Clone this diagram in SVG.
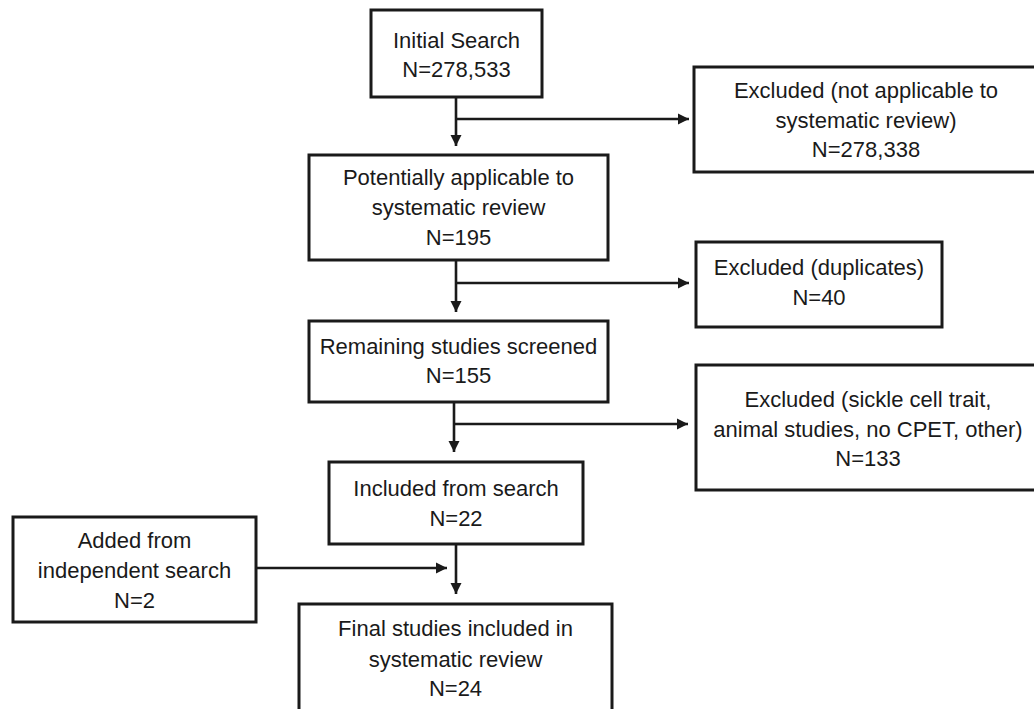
<svg xmlns="http://www.w3.org/2000/svg" width="1034" height="709" viewBox="0 0 1034 709">
<style>
.box{fill:#fff;stroke:#1a1a1a;stroke-width:3}
.t{font-family:"Liberation Sans",Arial,sans-serif;font-size:22px;fill:#1a1a1a;text-anchor:middle}
.c{fill:none;stroke:#1a1a1a;stroke-width:2.6}
</style>
<defs>
<marker id="ah" markerUnits="userSpaceOnUse" markerWidth="12" markerHeight="12" viewBox="0 0 12 12" refX="11" refY="6" orient="auto">
<path d="M0,0.5 L11,6 L0,11.5 Z" fill="#1a1a1a"/>
</marker>
</defs>
<rect width="1034" height="709" fill="#fff"/>
<g id="connectors">
<path class="c" d="M456,97 V146" marker-end="url(#ah)"/>
<path class="c" d="M456,119 H689" marker-end="url(#ah)"/>
<path class="c" d="M456,260 V312" marker-end="url(#ah)"/>
<path class="c" d="M456,283 H689" marker-end="url(#ah)"/>
<path class="c" d="M454,402 V452" marker-end="url(#ah)"/>
<path class="c" d="M454,424 H688" marker-end="url(#ah)"/>
<path class="c" d="M456,544 V594" marker-end="url(#ah)"/>
<path class="c" d="M256,568 H447" marker-end="url(#ah)"/>
</g>
<g id="initial">
<rect class="box" x="371" y="10" width="171" height="87"/>
<text class="t" x="456.5" y="48">Initial Search</text>
<text class="t" x="456.5" y="77">N=278,533</text>
</g>
<g id="potential">
<rect class="box" x="309" y="155" width="299" height="105"/>
<text class="t" x="458.5" y="185">Potentially applicable to</text>
<text class="t" x="458.5" y="215">systematic review</text>
<text class="t" x="458.5" y="245">N=195</text>
</g>
<g id="remaining">
<rect class="box" x="309" y="321" width="299" height="81"/>
<text class="t" x="458.5" y="354">Remaining studies screened</text>
<text class="t" x="458.5" y="383">N=155</text>
</g>
<g id="included">
<rect class="box" x="329" y="462" width="254" height="82"/>
<text class="t" x="456" y="496">Included from search</text>
<text class="t" x="456" y="526">N=22</text>
</g>
<g id="final">
<rect class="box" x="299" y="604" width="313" height="120"/>
<text class="t" x="455.5" y="636">Final studies included in</text>
<text class="t" x="455.5" y="667">systematic review</text>
<text class="t" x="455.5" y="696">N=24</text>
</g>
<g id="added">
<rect class="box" x="13" y="517" width="243" height="105"/>
<text class="t" x="134.5" y="548">Added from</text>
<text class="t" x="134.5" y="578">independent search</text>
<text class="t" x="134.5" y="608">N=2</text>
</g>
<g id="excl-notapplicable">
<rect class="box" x="694" y="67" width="346" height="105"/>
<text class="t" x="866" y="98">Excluded (not applicable to</text>
<text class="t" x="866" y="128">systematic review)</text>
<text class="t" x="866" y="157">N=278,338</text>
</g>
<g id="excl-duplicates">
<rect class="box" x="696" y="242" width="246" height="85"/>
<text class="t" x="819" y="275">Excluded (duplicates)</text>
<text class="t" x="819" y="305">N=40</text>
</g>
<g id="excl-sickle">
<rect class="box" x="696" y="365" width="344" height="125"/>
<text class="t" x="868" y="407">Excluded (sickle cell trait,</text>
<text class="t" x="868" y="437">animal studies, no CPET, other)</text>
<text class="t" x="868" y="466">N=133</text>
</g>
</svg>
